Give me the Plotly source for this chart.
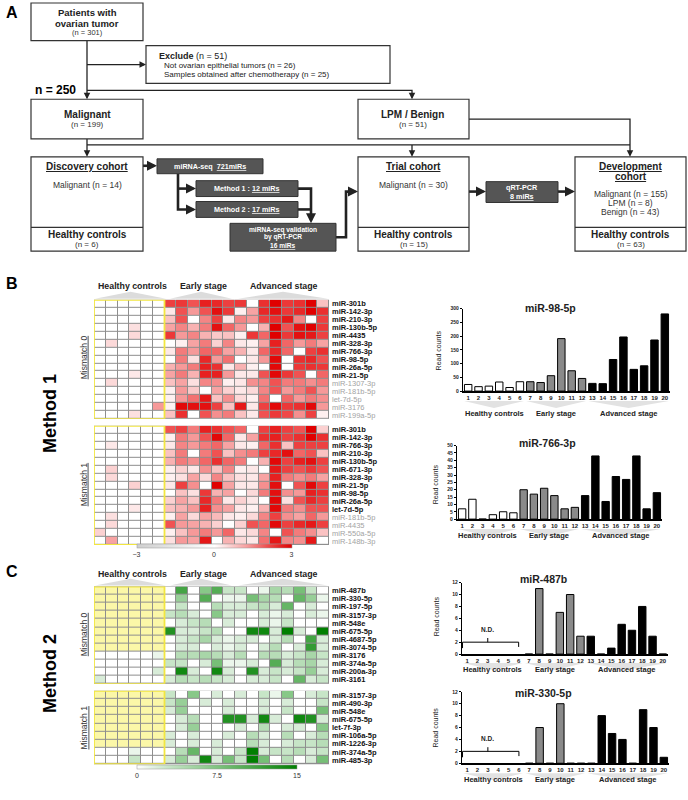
import plotly.graph_objects as go

W, H = 688, 800
FONT = "Liberation Sans, Arial, sans-serif"

# ---------------- data ----------------
samples = list(range(1, 21))
group_names = ["Healthy controls", "Early stage", "Advanced stage"]
group_spans = [(1, 6), (7, 12), (13, 20)]

mir98_5p = [24, 16, 18, 33, 13, 34, 34, 31, 56, 191, 74, 46, 28, 27, 115, 197, 79, 92, 186, 281]
mir766_3p = [7, 13.5, 0, 3, 5, 4.3, 20, 17, 21, 16, 7, 8, 16, 43, 12, 29, 27, 43, 7, 18]
mir487b = [None] * 6 + [0, 11, 0, 7, 10, 3, 3, 0, 1, 5, 4, 8, 3, 0]
mir330_5p = [None] * 6 + [0, 6, 0, 10, 0, 0, 0, 8, 5, 4, 0, 9, 6, 1]

m1_mm0_names = ["miR-301b", "miR-142-3p", "miR-210-3p", "miR-130b-5p", "miR-4435", "miR-328-3p",
                "miR-766-3p", "miR-98-5p", "miR-26a-5p", "miR-21-5p", "miR-1307-3p", "miR-181b-5p",
                "let-7d-5p", "miR-3176", "miR-199a-5p"]
m1_mm0_selected = 10
m1_mm0 = [
    [0, 0, 0, 0, 0, 0, 2.2, 2.3, 2.0, 2.6, 2.5, 2.2, 2.3, 0, 2.4, 3, 2.3, 2.4, 3, 0.8],
    [0, 0, 0, 0, 0, 0, 0.3, 2, 1.3, 2, 2.8, 2.3, 0.2, 1.2, 2.5, 2.8, 2.3, 2.5, 3, 2.4],
    [0, 0, 0, 0, 0, 0, 0.8, 2, 0, 1.5, 2.2, 0.3, 1.5, 1.3, 2.2, 2.4, 2.7, 1.5, 0, 2.2],
    [0, 0, 0, 0.4, 0, 0, 1.2, 1.5, 1, 1.6, 2.8, 1.8, 1.3, 0, 1, 3, 2, 2.8, 3, 2.3],
    [0, 0, 0, 0.5, 0, 0, 2.3, 1.3, 1.5, 1, 0.7, 0.8, 0.2, 2.3, 1.8, 3, 2.3, 2.8, 2.7, 2.2],
    [0, 0.5, 0, 0, 0, 0, 0, 0.2, 1.2, 1.6, 0.6, 1.5, 0.3, 0.2, 1.2, 2.6, 1.8, 1.3, 1.6, 1.2],
    [0, 0, 0, 0, 0, 0, 0.3, 1.6, 1.3, 1.8, 1.8, 1.2, 1, 0.3, 1.8, 2.5, 1.8, 0, 2.2, 2.4],
    [0, 0, 0, 0, 0, 0, 0, 1.6, 0.4, 2.5, 1.3, 1.7, 0, 0.3, 1.3, 2.9, 0, 2.4, 2.5, 2],
    [0, 0, 0, 0, 0, 0, 1, 1.3, 1.6, 2.6, 2.4, 0.3, 1, 0.2, 0, 2.9, 0, 2.3, 2.4, 2.3],
    [0, 0, 0, 0.3, 0, 0, 1.2, 1.6, 1, 2.6, 2.6, 1.3, 0.3, 0.3, 2, 2.9, 2.3, 2, 0, 1.8],
    [0, 0.5, 0, 0, 0, 0, 0.8, 1.2, 0.4, 1.5, 1.4, 0.2, 0.3, 1.4, 1.5, 2, 1.6, 1.6, 1.4, 1.6],
    [0, 0, 0, 0, 0, 0, 0.2, 1.3, 0.7, 0, 1.2, 0.6, 0.3, 0.5, 1.5, 2, 1.3, 1.6, 2, 1.3],
    [0, 0, 0, 0, 0, 0, 0.2, 1.3, 1.7, 2.7, 0.8, 1.4, 0.5, 0.2, 1.7, 0, 1.8, 1.3, 1.6, 1.4],
    [0, 0, 0, 0, 0, 1.3, 0.2, 2.9, 2.8, 2.8, 2.2, 0.8, 2.7, 0.3, 2.2, 2.9, 2.3, 2.4, 2.9, 1.3],
    [0, 0, 0, 0.4, 0, 0, 0.8, 2.4, 0, 2, 1.4, 1.6, 0.8, 0.3, 2, 2.3, 2.1, 1.4, 2.2, 0.2],
]

m1_mm1_names = ["miR-301b", "miR-142-3p", "miR-766-3p", "miR-210-3p", "miR-130b-5p", "miR-671-3p",
                "miR-328-3p", "miR-21-5p", "miR-98-5p", "miR-26a-5p", "let-7d-5p", "miR-181b-5p",
                "miR-4435", "miR-550a-5p", "miR-148b-3p"]
m1_mm1_selected = 11
m1_mm1 = [
    [0, 0, 0, 0, 0, 0, 2, 2.2, 1.6, 2.6, 2.4, 2, 1.8, 0, 2.2, 2.6, 2.2, 2, 3, 0.6],
    [0, 0, 0, 0, 0, 0, 0.2, 1.6, 1.3, 2, 2.9, 1.8, 0.3, 1.2, 2.4, 2.6, 2.2, 2.4, 3, 2.4],
    [0, 0.3, 0, 0, 0, 0, 0.3, 1.5, 1.3, 1.6, 1.8, 1.2, 0.3, 0.2, 1.8, 2.4, 0.8, 2.2, 2.2, 2.2],
    [0, 0, 0, 0, 0, 0, 0.8, 1.6, 0, 1.6, 2, 0.8, 1.4, 1.6, 2.2, 2.5, 2.8, 1.8, 2, 0.8],
    [0, 0, 0, 0, 0, 0, 1, 1.6, 1.4, 1.8, 2.4, 1.8, 1.6, 0, 1, 2.9, 2.2, 2.6, 2.8, 2.2],
    [0, 0.6, 0, 0, 0, 0, 0.2, 0.6, 0.3, 1.4, 0.8, 1.5, 0.2, 0.3, 0, 2.7, 2.2, 2, 2.3, 2],
    [0, 0.5, 0, 0, 0, 0, 0.2, 0.4, 1.2, 0.5, 1.5, 0.8, 0.4, 0.3, 1.2, 2.6, 1.6, 1.4, 1.6, 1.2],
    [0, 0, 0, 0.6, 0, 0, 0.3, 2.2, 1.4, 0, 3, 1.2, 0.3, 0.3, 1.4, 2.8, 0, 2, 2.9, 2.2],
    [0, 0, 0, 0, 0, 0, 0, 0.8, 0.4, 2.3, 1, 1.2, 0, 0.5, 1.6, 2.8, 1.4, 1.3, 2.6, 2.4],
    [0, 0, 0, 0, 0, 0, 0.6, 1.2, 0.8, 2.5, 1.6, 0.3, 0.6, 0.3, 0, 2.9, 0.4, 2, 2.5, 2.2],
    [0, 0, 0, 0.3, 0, 0, 0.8, 1, 1.3, 2.6, 1.4, 1.2, 0.3, 0.2, 1, 2.9, 1.6, 1.4, 2, 2],
    [0, 0.4, 0, 0, 0, 0, 0.2, 1.2, 0.5, 1.2, 0.9, 0.3, 0.2, 0.5, 1.5, 2.2, 1.4, 1.2, 1.8, 1.3],
    [0, 0.5, 0, 0, 0, 0, 2, 1.3, 1.2, 1, 0.6, 0, 0.6, 2, 1.8, 2.9, 2.2, 2.5, 2.7, 2.2],
    [0.6, 0, 0, 0, 0, 0, 0.2, 0.8, 1.3, 1.6, 1.3, 1.8, 0.3, 0.5, 1.5, 0, 2, 1.6, 1.4, 0.8],
    [0, 1.2, 0, 0, 0, 0, 0.4, 1.3, 1.2, 2.7, 0, 1, 0.5, 0.3, 1.7, 2.7, 1.5, 1.4, 2.7, 0],
]

N = None  # N.D. (not detected)
m2_mm0_names = ["miR-487b", "miR-330-5p", "miR-197-5p", "miR-3157-3p", "miR-548e", "miR-675-5p",
                "miR-4687-5p", "miR-3074-5p", "miR-3176", "miR-374a-5p", "miR-200a-3p", "miR-3161"]
m2_mm0 = [
    [N] * 6 + [0, 11, 0, 7, 10, 3, 3, 0, 1, 5, 4, 8, 3, 0],
    [N] * 6 + [0, 6, 0, 10, 0, 1, 1, 8, 5, 4, 0, 9, 6, 1],
    [N] * 6 + [0, 3, 0, 0, 4, 2, 2, 3, 4, 2, 9, 0, 2, 0],
    [N] * 6 + [3, 4, 2, 0, 7, 2, 2, 0, 2, 1, 2, 0, 2, 1],
    [N] * 6 + [0, 2, 3, 4, 0, 2, 0, 0, 2, 1, 3, 0, 0, 0],
    [N] * 6 + [13, 2, 2, 3, 4, 0, 0, 14, 14, 2, 15, 2, 0, 15],
    [N] * 6 + [0, 2, 3, 5, 2, 1, 2, 2, 0, 2, 4, 0, 11, 2],
    [N] * 6 + [0, 2, 2, 0, 2, 1, 2, 0, 2, 4, 0, 2, 12, 2],
    [0, 0, 0, 0, 0, 1, 0, 4, 4, 5, 4, 2, 4, 0, 4, 4, 2, 3, 5, 3],
    [0, 0, 0, 0, 0, 0, 3, 3, 0, 2, 8, 1, 1, 2, 0, 10, 2, 4, 5, 2],
    [0, 0, 0, 0, 0, 2, 0, 14, 2, 0, 14, 2, 0, 13, 2, 3, 2, 3, 6, 2],
    [2, 0, 0, 0, 0, 0, 2, 4, 3, 4, 3, 2, 0, 2, 2, 3, 0, 9, 2, 3],
]

m2_mm1_names = ["miR-3157-3p", "miR-490-3p", "miR-548e", "miR-675-5p", "let-7f-3p", "miR-106a-5p",
                "miR-1226-3p", "miR-374a-5p", "miR-485-3p"]
m2_mm1 = [
    [N] * 6 + [3, 0, 7, 0, 2, 0, 2, 0, 3, 1, 7, 0, 2, 3],
    [N] * 6 + [3, 6, 0, 2, 0, 2, 0, 0, 2, 0, 2, 0, 0, 3],
    [N] * 6 + [2, 6, 0, 0, 0, 2, 0, 0, 2, 0, 3, 0, 0, 8],
    [N] * 6 + [0, 2, 4, 0, 0, 13, 13, 2, 14, 2, 0, 14, 13, 2],
    [N] * 6 + [0, 2, 6, 0, 0, 0, 2, 0, 4, 0, 2, 2, 0, 7],
    [N] * 6 + [2, 0, 2, 0, 0, 2, 0, 4, 2, 0, 4, 0, 2, 4],
    [N] * 6 + [2, 0, 2, 0, 2, 0, 0, 4, 2, 0, 2, 3, 3, 4],
    [0, 0, 0, 1, 0, 0, 0, 4, 9, 0, 2, 0, 3, 15, 2, 3, 3, 4, 2, 3],
    [0, 0, 0, 3, 0, 0, 2, 6, 2, 14, 2, 8, 3, 15, 8, 0, 4, 0, 2, 8],
]

# ---------------- helpers ----------------
def px(x):
    return x / W


def py(y):
    return 1 - y / H


shapes = []
annotations = []
DARK = "#222222"


def text(x, y, s, size=8, color=DARK, bold=False, anchor="center", angle=0, family=FONT):
    if bold:
        s = "<b>" + s + "</b>"
    annotations.append(dict(x=px(x), y=py(y), xref="paper", yref="paper", text=s, showarrow=False,
                            xanchor=anchor, yanchor="middle", textangle=angle,
                            font=dict(size=size, color=color, family=family)))


def box(x0, y0, x1, y1, fill="white", line="#333333", lw=1.2):
    shapes.append(dict(type="rect", xref="paper", yref="paper", x0=px(x0), x1=px(x1), y0=py(y1), y1=py(y0),
                       fillcolor=fill, line=dict(color=line, width=lw), layer="above"))


def poly(points, lw=1.3, color=DARK):
    d = "M " + " L ".join(f"{px(x)},{py(y)}" for x, y in points)
    shapes.append(dict(type="path", xref="paper", yref="paper", path=d, line=dict(color=color, width=lw),
                       layer="above"))


def arrow(x, y, dx, dy, lw=1.3, length=6):
    annotations.append(dict(x=px(x), y=py(y), xref="paper", yref="paper", ax=-dx * length, ay=-dy * length,
                            axref="pixel", ayref="pixel", showarrow=True, arrowhead=2, arrowsize=1,
                            arrowwidth=lw, arrowcolor=DARK, text="", standoff=0))


# ---------------- panel A: flowchart ----------------
text(12, 10, "A", 16, "black", True)
# connectors
poly([(87, 38), (87, 95)])
poly([(87, 62), (144, 62)])
arrow(146, 62, 1, 0)
arrow(87, 97, 0, 1)
poly([(87, 88), (412, 88), (412, 95)])
arrow(412, 97, 0, 1)
poly([(87, 137), (87, 153)])
arrow(87, 155, 0, 1)
poly([(87, 143), (630, 143)])
poly([(412, 143), (412, 153)])
arrow(412, 155, 0, 1)
poly([(469, 117), (630, 117), (630, 153)])
arrow(630, 155, 0, 1)
TW = 2.6
poly([(143, 164), (154, 164)], TW)
arrow(157, 164, 1, 0, 2)
poly([(178, 172), (178, 208), (193, 208)], TW)
poly([(178, 187), (193, 187)], TW)
arrow(196, 187, 1, 0, 2)
arrow(196, 208, 1, 0, 2)
poly([(298, 187), (311, 187), (311, 219)], TW)
poly([(298, 208), (311, 208)], TW)
arrow(311, 222, 0, 1, 2)
poly([(336, 236), (346, 236), (346, 190), (355, 190)], TW)
arrow(358, 190, 1, 0, 2)
poly([(469, 190), (483, 190)], TW)
arrow(486, 190, 1, 0, 2)
poly([(558, 190), (572, 190)], TW)
arrow(575, 190, 1, 0, 2)

box(31, 0, 143, 38)
text(87, 10, "Patients with", 9.5, bold=True)
text(87, 20.5, "ovarian tumor", 9.5, bold=True)
text(87, 30, "(n = 301)", 7.5, "#333")

box(146, 43, 390, 81)
text(157, 53, "<b>Exclude</b> (n = 51)", 9, anchor="left")
text(162, 63, "Not ovarian epithelial tumors (n = 26)", 8, anchor="left")
text(162, 72.5, "Samples obtained after chemotherapy (n = 25)", 8, anchor="left")

text(33, 88, "n = 250", 12, "black", True, anchor="left")

box(31, 97, 143, 137)
text(87, 112, "Malignant", 10, bold=True)
text(87, 122, "(n = 199)", 8, "#333")
box(358, 97, 469, 137)
text(413, 112, "LPM / Benign", 10, bold=True)
text(413, 122, "(n = 51)", 8, "#333")

for (x0, x1, title, body, hc) in [
    (31, 143, ["<u>Discovery cohort</u>"], ["Malignant (n = 14)"], "(n = 6)"),
    (358, 469, ["<u>Trial cohort</u>"], ["Malignant (n = 30)"], "(n = 15)"),
    (575, 686, ["<u>Development</u>", "<u>cohort</u>"],
     ["", "Malignant (n = 155)", "LPM (n = 8)", "Benign (n = 43)"], "(n = 63)"),
]:
    box(x0, 155, x1, 250)
    poly([(x0, 226), (x1, 226)], 1.2, "#333")
    cx = (x0 + x1) / 2
    for i, t in enumerate(title):
        text(cx, 165 + 10 * i, t, 10, bold=True)
    for i, t in enumerate(body):
        if t:
            text(cx, 183 + 9.2 * i, t, 8.5, "#333")
    text(cx, 233.5, "Healthy controls", 10, bold=True)
    text(cx, 243, hc, 8, "#333")

DK = "#555555"
box(157, 157, 263, 172, DK, "#333", 1)
text(210, 164.5, "miRNA-seq  <u>721miRs</u>", 7.2, "white", True)
box(196, 179, 298, 195, DK, "#333", 1)
text(247, 187, "Method 1 : <u>12 miRs</u>", 7.2, "white", True)
box(196, 200, 298, 216, DK, "#333", 1)
text(247, 208, "Method 2 : <u>17 miRs</u>", 7.2, "white", True)
box(230, 222, 336, 250, DK, "#333", 1)
text(283, 228.3, "miRNA-seq validation", 6.6, "white", True)
text(283, 236.2, "by qRT-PCR", 6.6, "white", True)
text(283, 244.1, "<u>16 miRs</u>", 6.6, "white", True)
box(486, 180, 558, 201, DK, "#333", 1)
text(522, 185.5, "qRT-PCR", 7.2, "white", True)
text(522, 194.5, "<u>8 miRs</u>", 7.2, "white", True)

# ---------------- heatmaps ----------------
fig = go.Figure()
HX0, HX1 = 94, 329
heat_blocks = [
    # (matrix, names, n_selected, top, bottom, coloraxis)
    (m1_mm0, m1_mm0_names, m1_mm0_selected, 299, 419, "coloraxis"),
    (m1_mm1, m1_mm1_names, m1_mm1_selected, 426, 546, "coloraxis"),
    (m2_mm0, m2_mm0_names, len(m2_mm0_names), 588, 686, "coloraxis2"),
    (m2_mm1, m2_mm1_names, len(m2_mm1_names), 693, 767, "coloraxis2"),
]
layout_axes = {}
YELLOW = "#f2e640"
for i, (mat, names, nsel, top, bot, cax) in enumerate(heat_blocks):
    k = i + 1
    xa = "x" if k == 1 else f"x{k}"
    ya = "y" if k == 1 else f"y{k}"
    nrow = len(mat)
    cols = list(range(len(mat[0])))
    rows = list(range(nrow))
    fig.add_trace(go.Heatmap(z=mat, x=cols, y=rows, coloraxis=cax, xgap=1, ygap=1,
                             xaxis=xa, yaxis=ya, hoverinfo="skip"))
    mask = [[1 if v is None else None for v in r] for r in mat]
    if any(v == 1 for r in mask for v in r):
        fig.add_trace(go.Heatmap(z=mask, x=cols, y=rows, showscale=False, xgap=1, ygap=1,
                                 colorscale=[[0, "#fbf7a8"], [1, "#fbf7a8"]],
                                 xaxis=xa, yaxis=ya, hoverinfo="skip"))
    ticktext = []
    for j, nm in enumerate(names):
        if j < nsel:
            ticktext.append(f"<b>{nm}</b>")
        else:
            ticktext.append(f"<span style='color:#a3a3a3'>{nm}</span>")
    layout_axes["xaxis" if k == 1 else f"xaxis{k}"] = dict(
        domain=[px(HX0), px(HX1)], range=[-0.5, len(cols) - 0.5], visible=False, anchor=ya)
    layout_axes["yaxis" if k == 1 else f"yaxis{k}"] = dict(
        domain=[py(bot), py(top)], range=[nrow - 0.5, -0.5], anchor=xa, side="right",
        tickvals=rows, ticktext=ticktext, ticks="", showgrid=False, zeroline=False, showline=False,
        tickfont=dict(size=7.5, color="#111", family=FONT), ticklabelstandoff=2)
    # grid background and outlines
    shapes.append(dict(type="rect", xref=xa, yref=ya, x0=-0.5, x1=len(cols) - 0.5, y0=-0.5, y1=nrow - 0.5,
                       fillcolor="#8e8e8e", line=dict(color="#8e8e8e", width=1), layer="below"))
    shapes.append(dict(type="rect", xref=xa, yref=ya, x0=-0.5, x1=5.5, y0=-0.5, y1=nrow - 0.5,
                       fillcolor="rgba(0,0,0,0)", line=dict(color=YELLOW, width=1.8), layer="above"))

# heatmap group headers
for (hy, base) in [(285, 298), (575, 587)]:
    for (name, (a, b)) in zip(group_names, [(95, 166), (170, 232), (238, 328)]):
        cx = (a + b) / 2
        shapes.append(dict(type="path", xref="paper", yref="paper",
                           path=f"M {px(a)},{py(base)} L {px(cx)},{py(base - 7)} L {px(b)},{py(base)} Z",
                           fillcolor="#dcdcdc", line=dict(width=0), layer="above"))
    text(132, hy, "Healthy controls", 8.8, "#222", True)
    text(203, hy, "Early stage", 8.8, "#222", True)
    text(284, hy, "Advanced stage", 8.8, "#222", True)

text(12, 283, "B", 16, "black", True)
text(12, 573, "C", 16, "black", True)
text(50, 414, "Method 1", 18, "black", True, angle=-90)
text(50, 676, "Method 2", 18, "black", True, angle=-90)
for (yy, lab) in [(357, "Mismatch 0"), (485, "Mismatch 1"), (636, "Mismatch 0"), (730, "Mismatch 1")]:
    text(84, yy, f"<u>{lab}</u>", 8.5, "#333", angle=-90)

# ---------------- bar charts ----------------
bar_colors = ["white"] * 6 + ["#8a8a8a"] * 6 + ["black"] * 8
bar_specs = [
    # values, title, ymax, dtick, x-domain px, y top px, y base px, title pos, group label y, read-counts pos
    (mir98_5p, "miR-98-5p", 300, 50, (463, 670), 308, 391, (550, 307), 414, (438, 350)),
    (mir766_3p, "miR-766-3p", 50, 5, (457, 662), 446, 520, (547, 443), 543, (435, 485)),
    (mir487b, "miR-487b", 12, 2, (462, 668), 584, 656, (543, 580), 678, (436, 618)),
    (mir330_5p, "miR-330-5p", 12, 2, (462, 669), 694, 766, (543, 695), 789, (436, 730)),
]
for i, (vals, title, ymax, dt, (xd0, xd1), ytop, ybase, tpos, gy, rpos) in enumerate(bar_specs):
    k = i + 5
    xa, ya = f"x{k}", f"y{k}"
    fig.add_trace(go.Bar(x=samples, y=vals, marker=dict(color=bar_colors, line=dict(color="black", width=1)),
                         width=0.72, xaxis=xa, yaxis=ya, showlegend=False, hoverinfo="skip"))
    layout_axes[f"xaxis{k}"] = dict(domain=[px(xd0), px(xd1)], range=[0.5, 20.5], anchor=ya,
                                   tickvals=samples, ticks="", showline=True, linecolor="black", linewidth=1.6,
                                   showgrid=False, zeroline=False,
                                   tickfont=dict(size=6, family=FONT, color="#222", weight="bold"))
    layout_axes[f"yaxis{k}"] = dict(domain=[py(ybase), py(ytop)], range=[0, ymax], dtick=dt, anchor=xa,
                                   showline=True, linecolor="black", linewidth=1.3, ticks="outside", ticklen=2,
                                   tickcolor="black", showgrid=False, zeroline=False,
                                   tickfont=dict(size=5, family=FONT, color="#222", weight="bold"))
    text(tpos[0], tpos[1], title, 10.5, "#222", True)
    text(rpos[0], rpos[1], "Read counts", 7, "#222", angle=-90)
    for name, (a, b) in zip(group_names, group_spans):
        cx = (a + b) / 2
        y_top, y_bot = py(gy - 13), py(gy - 6)
        shapes.append(dict(type="path", xref=xa, yref="paper",
                           path=f"M {a - 0.4},{y_top} L {b + 0.4},{y_top} L {cx},{y_bot} Z",
                           fillcolor="#e2e2e2", line=dict(width=0), layer="above"))
        annotations.append(dict(x=cx, y=py(gy), xref=xa, yref="paper", text=f"<b>{name}</b>",
                                showarrow=False, font=dict(size=7.5, family=FONT, color="#222")))
    if vals[0] is None:
        shapes.append(dict(type="path", xref=xa, yref=ya, path="M 0.55,1.0 L 0.55,2 L 6,2 L 6,1.2",
                           line=dict(color="black", width=1)))
        shapes.append(dict(type="path", xref=xa, yref=ya, path="M 3,2 L 3,2.7",
                           line=dict(color="black", width=1)))
        annotations.append(dict(x=3, y=4.2, xref=xa, yref=ya, text="<b>N.D.</b>", showarrow=False,
                                font=dict(size=6.5, family=FONT, color="#222")))

fig.update_layout(
    width=W, height=H, margin=dict(l=0, r=0, t=0, b=0),
    paper_bgcolor="white", plot_bgcolor="rgba(0,0,0,0)",
    font=dict(family=FONT, color="#222"),
    showlegend=False, bargap=0.28,
    shapes=shapes, annotations=annotations,
    coloraxis=dict(cmin=-3, cmax=3,
                   colorscale=[[0, "#cfcfcf"], [0.5, "#ffffff"], [0.7, "#f7a3a3"], [0.85, "#ef4848"],
                               [1, "#e00000"]],
                   colorbar=dict(orientation="h", x=px(214), xanchor="center", y=py(545), yanchor="top",
                                 len=155 / W, thickness=4, xpad=0, ypad=0, outlinewidth=0.5,
                                 outlinecolor="#999", tickvals=[-3, 0, 3], ticks="",
                                 tickfont=dict(size=7, family=FONT, color="#333"))),
    coloraxis2=dict(cmin=0, cmax=15,
                    colorscale=[[0, "#ffffff"], [0.15, "#d3ead3"], [0.5, "#80c480"], [1, "#007f00"]],
                    colorbar=dict(orientation="h", x=px(217), xanchor="center", y=py(768), yanchor="top",
                                  len=160 / W, thickness=4, xpad=0, ypad=0, outlinewidth=0.5,
                                  outlinecolor="#999", tickvals=[0, 7.5, 15], ticktext=["0", "7.5", "15"],
                                  ticks="", tickfont=dict(size=7, family=FONT, color="#333"))),
    **layout_axes,
)

fig.write_html("out.html")
